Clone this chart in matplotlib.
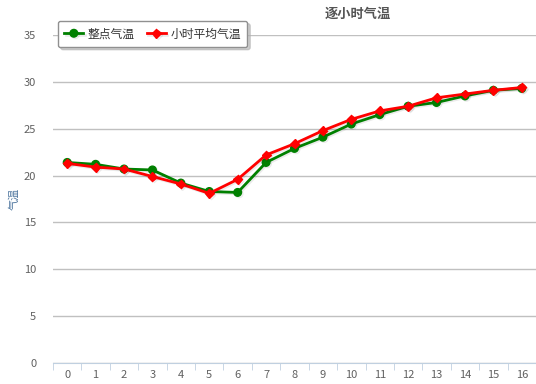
import matplotlib
matplotlib.use("Agg")
import matplotlib.pyplot as plt
import matplotlib.patheffects as pe
import numpy as np

plt.rcParams['font.family'] = ['Noto Sans CJK SC', 'DejaVu Sans']

hours = list(range(17))
hour_labels = [str(h) for h in hours]
temp_hourly = [21.4, 21.2, 20.7, 20.6, 19.2, 18.3, 18.2, 21.4, 22.9, 24.1, 25.5, 26.5, 27.4, 27.8, 28.5, 29.1, 29.3]
temp_avg = [21.3, 20.9, 20.7, 19.9, 19.1, 18.1, 19.6, 22.2, 23.4, 24.8, 26.0, 26.9, 27.4, 28.3, 28.7, 29.1, 29.4]
yticks = [0, 5, 10, 15, 20, 25, 30, 35]

fig = plt.figure(figsize=(5.36, 3.84), dpi=100)
ax = fig.add_axes([53 / 536, 21 / 384, 483 / 536, 328 / 384])

shadow = [pe.SimpleLineShadow(offset=(1, -1), alpha=0.08, shadow_color='black'), pe.Normal()]
ax.plot(hours, temp_hourly, color='#008000', lw=2, marker='o', ms=5.5,
        label='整点气温', path_effects=shadow, zorder=3)
ax.plot(hours, temp_avg, color='#FF0000', lw=2, marker='D', ms=4.5,
        label='小时平均气温', path_effects=shadow, zorder=4)

ax.set_xlim(-0.5, 16.5)
ax.set_ylim(0, 35)
ax.set_yticks(yticks)
ax.set_xticks(hours)
ax.set_xticklabels(hour_labels)
ax.set_xticks(np.arange(-0.5, 16.6, 1), minor=True)
ax.grid(axis='y', color='#C0C0C0', lw=1)
ax.set_axisbelow(True)
for s in ['top', 'right', 'left']:
    ax.spines[s].set_visible(False)
ax.spines['bottom'].set_color('#C0D0E0')
ax.tick_params(axis='y', length=0, labelsize=8, labelcolor='#606060', pad=12)
ax.tick_params(axis='x', which='major', length=0, labelsize=8, labelcolor='#606060', pad=5)
ax.tick_params(axis='x', which='minor', length=5, color='#C0D0E0')

ax.set_ylabel('气温', fontsize=8, color='#4d759e', labelpad=3)

fig.text(358 / 536, 1 - 14 / 384, '逐小时气温', ha='center', va='center',
         fontsize=9.5, fontweight='bold', color='#555555')

leg = fig.legend(loc='upper left', bbox_to_anchor=(52 / 536, 1 - 15 / 384), ncol=2,
                 fontsize=8.5, frameon=True, fancybox=True,
                 shadow={'color': '#b0b0b0', 'alpha': 0.6},
                 handlelength=1.6, columnspacing=1.0, borderpad=0.55, handletextpad=0.4)
leg.get_frame().set_edgecolor('#909090')
for t in leg.get_texts():
    t.set_color('#333333')

fig.savefig('out.png', dpi=100)
